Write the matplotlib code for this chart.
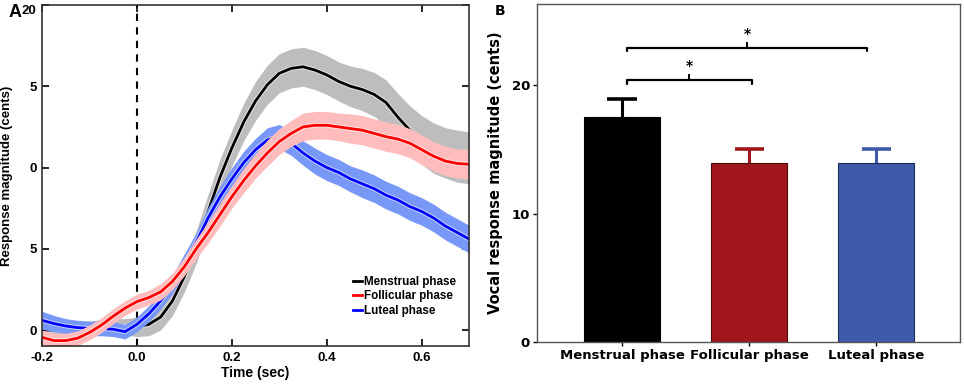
import matplotlib
matplotlib.use("Agg")
import matplotlib.pyplot as plt
import numpy as np

# ---------------------------------------------------------------------------
# Panel A: response magnitude time course (cents), mean and SE band
time = np.linspace(-0.2, 0.7, 37)

menstrual = [0.0, 0.0, 0.05, 0.1, 0.2, 0.25, 0.25, 0.2, 0.2, 0.35, 0.8, 1.8,
             3.3, 5.1, 7.3, 9.4, 11.2, 12.8, 14.1, 15.1, 15.8, 16.1, 16.2,
             16.0, 15.7, 15.3, 15.0, 14.8, 14.5, 14.0, 13.1, 12.3, 11.7, 11.2,
             10.9, 10.7, 10.6]
menstrual_se = [0.35, 0.35, 0.35, 0.35, 0.35, 0.4, 0.45, 0.5, 0.6, 0.7, 0.8,
                0.9, 0.95, 1.0, 1.05, 1.1, 1.1, 1.15, 1.2, 1.2, 1.2, 1.2, 1.2,
                1.2, 1.2, 1.2, 1.25, 1.3, 1.35, 1.4, 1.45, 1.5, 1.5, 1.55,
                1.55, 1.6, 1.6]

follicular = [-0.45, -0.65, -0.65, -0.5, -0.15, 0.3, 0.85, 1.35, 1.75, 2.0,
              2.35, 3.0, 3.9, 5.0, 6.0, 7.1, 8.2, 9.2, 10.1, 10.9, 11.6, 12.1,
              12.5, 12.6, 12.6, 12.5, 12.4, 12.3, 12.1, 11.9, 11.75, 11.5,
              11.1, 10.7, 10.4, 10.25, 10.2]
follicular_se = [0.45, 0.45, 0.45, 0.45, 0.45, 0.45, 0.45, 0.45, 0.45, 0.45,
                 0.5, 0.5, 0.55, 0.6, 0.65, 0.7, 0.7, 0.75, 0.75, 0.8, 0.8,
                 0.8, 0.85, 0.85, 0.85, 0.85, 0.9, 0.9, 0.9, 0.9, 0.9, 0.9,
                 0.9, 0.9, 0.9, 0.9, 0.9]

luteal = [0.6, 0.4, 0.25, 0.15, 0.1, 0.1, 0.05, -0.1, 0.35, 1.0, 1.8, 2.8,
          4.1, 5.4, 6.9, 8.2, 9.3, 10.3, 11.1, 11.7, 11.9, 11.5, 10.9, 10.4,
          10.0, 9.7, 9.3, 9.0, 8.7, 8.3, 8.0, 7.6, 7.3, 6.9, 6.4, 6.0, 5.6]
luteal_se = [0.55, 0.5, 0.45, 0.45, 0.45, 0.45, 0.45, 0.45, 0.45, 0.5, 0.5,
             0.55, 0.6, 0.6, 0.65, 0.65, 0.7, 0.7, 0.7, 0.75, 0.75, 0.75,
             0.75, 0.8, 0.8, 0.8, 0.8, 0.85, 0.85, 0.85, 0.85, 0.85, 0.85,
             0.85, 0.85, 0.85, 0.85]

y_ticks_a = [0, 5, 10, 15, 20]
y_tick_labels_a = ["0", "5", "0", "5", "20"]
x_ticks_a = [-0.2, 0.0, 0.2, 0.4, 0.6]

# ---------------------------------------------------------------------------
# Panel B: mean vocal response magnitude per phase
phases = ["Menstrual phase", "Follicular phase", "Luteal phase"]
phase_means = [17.5, 13.95, 13.9]
phase_errors = [1.4, 1.05, 1.1]

# significance brackets: (left, right, height)
brackets = [(0.04, 1.02, 20.4), (0.04, 1.93, 22.9)]

arial = "Liberation Sans"
dejavu = "DejaVu Sans"

figure = plt.figure(figsize=(9.64, 3.87), dpi=100)

# --------------------------------------------------------------------------
axis = figure.add_axes([0.0436, 0.106, 0.443, 0.881])

axis.axvline(0.0, color="black", linestyle=(0, (3.5, 3.0)), linewidth=1.5,
             zorder=1)

series = [
    (menstrual, menstrual_se, "black", "#bdbdbd", "Menstrual phase"),
    (luteal, luteal_se, "#0000ff", "#7898f8", "Luteal phase"),
    (follicular, follicular_se, "#ff0000", "#ffbcbc", "Follicular phase"),
]
handles = {}
for values, se, line_color, band_color, label in series:
    values = np.asarray(values)
    se = np.asarray(se)
    axis.fill_between(time, values - se, values + se, color=band_color,
                      linewidth=0, zorder=2)
    axis.plot(time, values, color="white", linewidth=3.4, alpha=0.6, zorder=2)
    (line,) = axis.plot(time, values, color=line_color, linewidth=2.0,
                        label=label, zorder=2)
    handles[label] = line

legend_order = ["Menstrual phase", "Follicular phase", "Luteal phase"]
axis.legend(
    [handles[k] for k in legend_order], legend_order,
    loc="lower right", bbox_to_anchor=(0.995, 0.055), frameon=False,
    handlelength=0.75, handletextpad=0.25, labelspacing=0.2,
    prop={"family": arial, "weight": "bold", "size": 8.4},
)

axis.set_xlim(-0.2, 0.7)
axis.set_ylim(-0.98, 20.0)
axis.set_xticks(x_ticks_a)
axis.set_xticklabels(["{:.1f}".format(x) for x in x_ticks_a])
axis.set_yticks(y_ticks_a)
axis.set_yticklabels(y_tick_labels_a)
axis.tick_params(direction="in", length=5, width=1.2, right=True, top=True,
                 labelsize=9.5, pad=4)
for label in axis.get_xticklabels() + axis.get_yticklabels():
    label.set_fontfamily(arial)
    label.set_fontweight("bold")
axis.get_yticklabels()[-1].set_verticalalignment("top")
for spine in axis.spines.values():
    spine.set_linewidth(1.2)
    spine.set_color("#333333")

axis.set_xlabel("Time (sec)", fontfamily=arial, fontweight="bold",
                fontsize=10, labelpad=2)
axis.set_ylabel("Response magnitude (cents)", fontfamily=arial,
                fontweight="bold", fontsize=9.5, labelpad=6)
figure.text(0.009, 0.968, "A", fontfamily=arial, fontweight="bold",
            fontsize=13, va="center")

# --------------------------------------------------------------------------
axis = figure.add_axes([0.557, 0.116, 0.439, 0.874])

positions = np.arange(len(phases))
bar_colors = ["#000000", "#a0161b", "#3f5aa9"]
edge_colors = ["#000000", "#4a0a0a", "#1c2a5a"]
axis.bar(positions, phase_means, width=0.6, color=bar_colors,
         edgecolor=edge_colors, linewidth=0.8, zorder=2)
cap_half = 0.115
for x, mean, error, color in zip(positions, phase_means, phase_errors,
                                 bar_colors):
    axis.plot([x, x], [mean, mean + error], color=color, linewidth=2.2,
              zorder=1)
    axis.plot([x - cap_half, x + cap_half], [mean + error, mean + error],
              color=color, linewidth=2.6, solid_capstyle="butt", zorder=1)

for left, right, height in brackets:
    middle = (left + right) / 2
    axis.plot([left, left, right, right], [height - 0.3, height, height,
              height - 0.3], color="black", linewidth=1.6,
              solid_capstyle="round", solid_joinstyle="round")
    axis.plot([middle, middle], [height, height + 0.35], color="black",
              linewidth=1.4)
    axis.text(middle, height + 0.55, "*", ha="center", va="bottom",
              fontfamily=dejavu, fontweight="bold", fontsize=10)

axis.set_xlim(-0.67, 2.66)
axis.set_ylim(0, 26.3)
axis.set_xticks(positions)
axis.set_xticklabels(phases)
axis.set_yticks([0, 10, 20])
axis.tick_params(direction="out", length=3, width=1.0, labelsize=9.5, pad=2)
for label in axis.get_xticklabels() + axis.get_yticklabels():
    label.set_fontfamily(dejavu)
    label.set_fontweight("bold")
for label in axis.get_xticklabels():
    label.set_fontsize(9.5)
for spine in axis.spines.values():
    spine.set_linewidth(1.0)
    spine.set_color("#555555")

axis.set_ylabel("Vocal response magnitude (cents)", fontfamily=dejavu,
                fontweight="bold", fontsize=10.5, labelpad=6)
figure.text(0.513, 0.972, "B", fontfamily=dejavu, fontweight="bold",
            fontsize=10, va="center")

plt.savefig("out.png", dpi=100)
